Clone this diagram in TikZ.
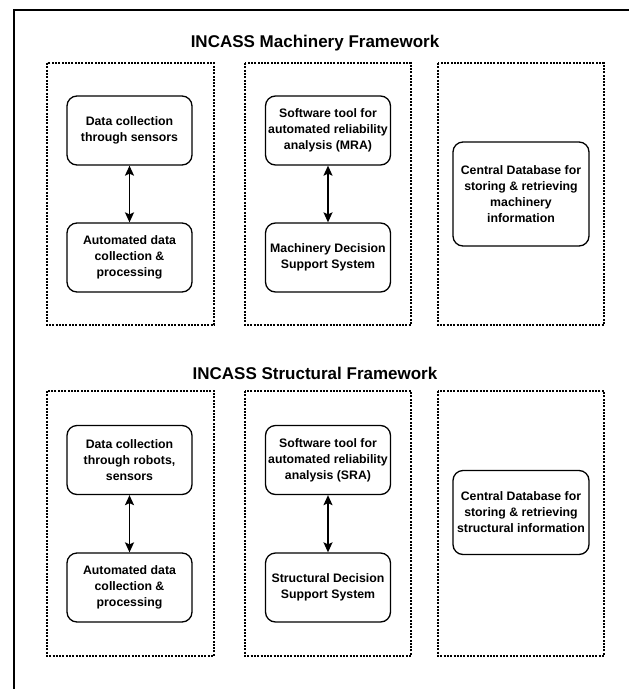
\documentclass[tikz,border=0pt]{standalone}
\usepackage{fontspec}
\setmainfont{Liberation Sans}
\usetikzlibrary{positioning,arrows.meta}

\begin{document}
\begin{tikzpicture}[x=1pt, y=-1pt,
    box/.style={draw, rounded corners=10pt, line width=1.3pt, align=center,
                minimum width=125pt, minimum height=69pt, inner sep=2pt,
                font=\fontsize{12.3}{16}\selectfont\bfseries},
    group/.style={draw, line width=1.6pt, dash pattern=on 2pt off 1.3pt},
    link/.style={{Stealth[length=10pt,width=9pt,inset=2pt]}-{Stealth[length=10pt,width=9pt,inset=2pt]}, line width=1.5pt},
    heading/.style={font=\fontsize{17}{20}\selectfont\bfseries}]
    \useasboundingbox (0,0) rectangle (629,689);

    % Outer frame (only top and left edges are inside the page)
    \draw[line width=2pt] (14,689) -- (14,10) -- (629,10);

    % Machinery framework
    \node[heading] (mtitle) at (315,43) {INCASS Machinery Framework};
    \foreach \xa/\xb in {47/214, 245/411, 438/604} {
        \draw[group] (\xa,63) rectangle (\xb,325);
    }
    \node[box] (m1a) at (129.5,130.5) {Data collection\\through sensors};
    \node[box] (m1b) at (129.5,257.5) {Automated data\\collection \&\\processing};
    \node[box] (m2a) at (328,130.5) {Software tool for\\automated reliability\\analysis (MRA)};
    \node[box] (m2b) at (328,257.5) {Machinery Decision\\Support System};
    \node[box, minimum width=136pt, minimum height=104pt] (m3) at (521,194)
        {Central Database for\\storing \& retrieving\\machinery\\information};
    \draw[link] (m1a) -- (m1b);
    \draw[link] (m2a) -- (m2b);

    % Structural framework
    \node[heading] (stitle) at (315,373) {INCASS Structural Framework};
    \foreach \xa/\xb in {47/214, 245/411, 438/604} {
        \draw[group] (\xa,391) rectangle (\xb,656);
    }
    \node[box] (s1a) at (129.5,460) {Data collection\\through robots,\\sensors};
    \node[box] (s1b) at (129.5,587.5) {Automated data\\collection \&\\processing};
    \node[box] (s2a) at (328,460) {Software tool for\\automated reliability\\analysis (SRA)};
    \node[box] (s2b) at (328,587.5) {Structural Decision\\Support System};
    \node[box, minimum width=136pt, minimum height=84pt] (s3) at (521,512.5)
        {Central Database for\\storing \& retrieving\\structural information};
    \draw[link] (s1a) -- (s1b);
    \draw[link] (s2a) -- (s2b);
\end{tikzpicture}
\end{document}
